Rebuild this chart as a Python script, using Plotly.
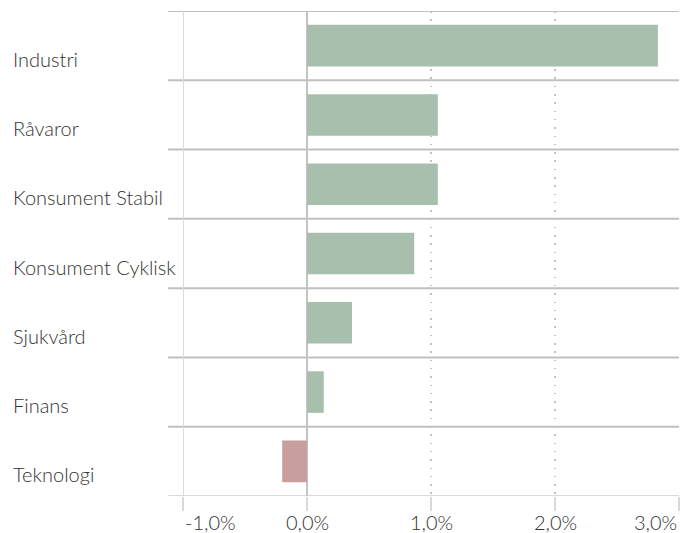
import plotly.graph_objects as go

categories = ["Industri", "Råvaror", "Konsument Stabil", "Konsument Cyklisk", "Sjukvård", "Finans", "Teknologi"]
values = [2.83, 1.055, 1.055, 0.865, 0.363, 0.135, -0.20]
tick_vals = [-1, 0, 1, 2, 3]
tick_labels = ["-1,0%", "0,0%", "1,0%", "2,0%", "3,0%"]

GREEN = "#a8bfad"
RED = "#c99e9e"
FONT = "Lato"
FSIZE = 20
TXT = "#333333"

colors = [GREEN if v >= 0 else RED for v in values]

fig = go.Figure(go.Bar(
    x=values, y=categories, orientation="h",
    marker=dict(color=colors, line=dict(width=0)),
    hoverinfo="skip",
))

W, H = 683, 533
ml, mr, mt, mb = 183, 4, 11, 37
pw = W - ml - mr

fig.update_layout(
    width=W, height=H,
    margin=dict(l=ml, r=mr, t=mt, b=mb, pad=0),
    plot_bgcolor="white", paper_bgcolor="white",
    bargap=0.4, showlegend=False,
    font=dict(family=FONT, size=FSIZE, color=TXT, weight=300),
    xaxis=dict(
        range=[-1, 3], tickvals=tick_vals, showticklabels=False,
        showgrid=True, gridcolor="#c2c2c2", gridwidth=1.5, griddash="1.5px,6.8px",
        zeroline=False, ticks="outside", ticklen=14, tickwidth=2, tickcolor="#dadada",
        showline=False, fixedrange=True,
    ),
    yaxis=dict(
        categoryorder="array", categoryarray=categories[::-1],
        range=[-0.5, len(categories) - 0.5],
        showticklabels=False, showgrid=False, zeroline=False, ticks="", fixedrange=True,
    ),
)

shapes = []
n = len(categories)
for k in range(n + 1):
    yv = k - 0.5
    col = "#dadada" if k == 0 else "#c0c0c0"
    shapes.append(dict(type="line", xref="paper", yref="y", x0=-15 / pw, x1=1, y0=yv, y1=yv,
                       line=dict(color=col, width=2), layer="below"))
shapes.append(dict(type="line", xref="x", yref="paper", x0=-1, x1=-1, y0=0, y1=1,
                   line=dict(color="#dadada", width=2), layer="below"))
shapes.append(dict(type="line", xref="x", yref="paper", x0=0, x1=0, y0=0, y1=1,
                   line=dict(color="#c4c4c4", width=2), layer="below"))
fig.update_layout(shapes=shapes)

annotations = []
for c in categories:
    annotations.append(dict(xref="paper", yref="y", x=(11 - ml) / pw, y=c, xanchor="left",
                            yanchor="middle", yshift=-13, text=c, showarrow=False,
                            font=dict(family=FONT, size=FSIZE, color=TXT, weight=300)))
for i, (tv, tl) in enumerate(zip(tick_vals, tick_labels)):
    anchor = "left" if i == 0 else ("right" if i == len(tick_vals) - 1 else "center")
    annotations.append(dict(xref="x", yref="paper", x=tv, y=0, xanchor=anchor, yanchor="top",
                            yshift=-12, text=tl, showarrow=False,
                            font=dict(family=FONT, size=FSIZE, color=TXT, weight=300)))
fig.update_layout(annotations=annotations)

fig.write_html("out.html", config={"displayModeBar": False},
               post_script="document.body.style.margin='0';document.body.style.padding='0';document.body.style.overflow='hidden';")
